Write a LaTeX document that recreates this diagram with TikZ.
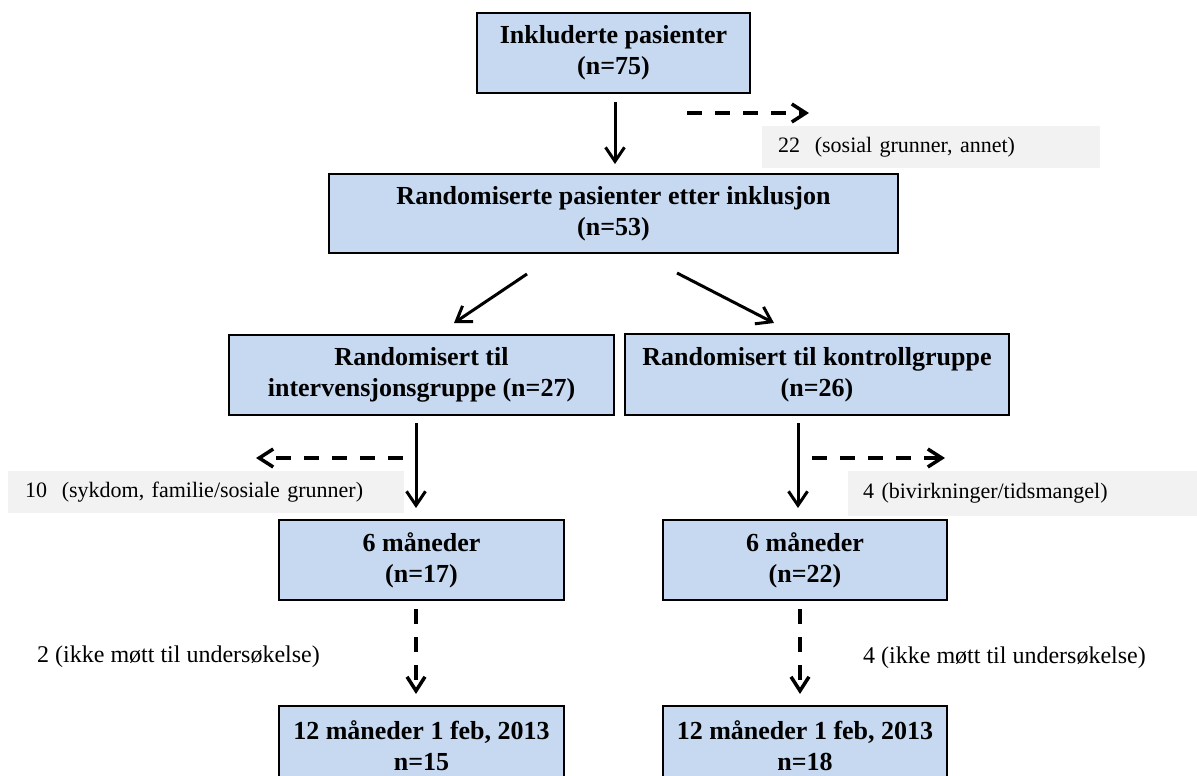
\documentclass[tikz,border=0pt]{standalone}
\usepackage{fontspec}
\setmainfont{Liberation Serif}
\usetikzlibrary{arrows.meta}
\definecolor{boxblue}{HTML}{C6D9F1}
\definecolor{graybg}{HTML}{F2F2F2}
\begin{document}
\begin{tikzpicture}[x=1pt,y=-1pt,
  mainbox/.style={draw=black, line width=2pt, fill=boxblue, inner sep=0pt, align=center,
    font=\fontsize{26}{31}\selectfont\bfseries},
  note/.style={fill=graybg, inner ysep=0pt, anchor=north west, align=left,
    font=\fontsize{22}{26}\selectfont},
  plain/.style={inner sep=0pt, anchor=west, font=\fontsize{24}{28}\selectfont},
  solidarrow/.style={line width=3pt, -{Straight Barb[length=14pt,width=19pt]}},
  dasharrow/.style={line width=3.5pt, dash pattern=on 15pt off 13pt, -{Straight Barb[length=14pt,width=18pt]}}
]
\useasboundingbox (0,0) rectangle (1197,776);
\clip (0,0) rectangle (1197,776);

% main boxes
\node[mainbox, minimum width=273pt, minimum height=80pt] (b1) at (613.5,53) {Inkluderte pasienter\\(n=75)};
\node[mainbox, minimum width=569pt, minimum height=79pt] (b2) at (613.5,213.5) {Randomiserte pasienter etter inklusjon\\(n=53)};
\node[mainbox, minimum width=385pt, minimum height=80pt] (b3) at (421.5,375) {Randomisert til\\intervensjonsgruppe (n=27)};
\node[mainbox, minimum width=384pt, minimum height=81pt] (b4) at (817,374.5) {Randomisert til kontrollgruppe\\(n=26)};
\node[mainbox, minimum width=285pt, minimum height=80pt] (b5) at (421.5,560) {6 måneder\\(n=17)};
\node[mainbox, minimum width=284pt, minimum height=80pt] (b6) at (805,560) {6 måneder\\(n=22)};
\node[mainbox, minimum width=285pt, minimum height=80pt, anchor=north] (b7) at (421.5,705) {12 måneder 1 feb, 2013\\n=15};
\node[mainbox, minimum width=284pt, minimum height=80pt, anchor=north] (b8) at (805,705) {12 måneder 1 feb, 2013\\n=18};

% gray notes
\node[note, inner xsep=16pt, text width=306pt, minimum height=42pt] (g1) at (762,126) {22\ \ (sosial grunner, annet)};
\node[note, inner xsep=17pt, text width=362pt, minimum height=42pt] (g2) at (8,471) {10\ \ (sykdom, familie/sosiale grunner)};
\node[note, inner xsep=15pt, text width=319pt, minimum height=45pt] (g3) at (848,471) {4 (bivirkninger/tidsmangel)};

% plain labels
\node[plain] (t1) at (37,657) {2 (ikke møtt til undersøkelse)};
\node[plain] (t2) at (863,658) {4 (ikke møtt til undersøkelse)};

% connector end points
\coordinate (a1s) at (615,102);   \coordinate (a1e) at (615,164);
\coordinate (d1s) at (687,113);   \coordinate (d1e) at (809,113);
\coordinate (a2s) at (527,274);   \coordinate (a2e) at (454,323);
\coordinate (a3s) at (677,273);   \coordinate (a3e) at (774,323);
\coordinate (a4s) at (416,423);   \coordinate (a4e) at (416,508);
\coordinate (d2s) at (403,458);   \coordinate (d2e) at (256,458);
\coordinate (a5s) at (798,423);   \coordinate (a5e) at (798,508);
\coordinate (d3s) at (812,458);   \coordinate (d3e) at (945,458);
\coordinate (d4s) at (416,609);   \coordinate (d4e) at (416,694);
\coordinate (d5s) at (800,609);   \coordinate (d5e) at (800,694);

\draw[solidarrow] (a1s) -- (a1e);
\draw[dasharrow] (d1s) -- (d1e);
\draw[solidarrow] (a2s) -- (a2e);
\draw[solidarrow] (a3s) -- (a3e);
\draw[solidarrow] (a4s) -- (a4e);
\draw[dasharrow] (d2s) -- (d2e);
\draw[solidarrow] (a5s) -- (a5e);
\draw[dasharrow] (d3s) -- (d3e);
\draw[dasharrow] (d4s) -- (d4e);
\draw[dasharrow] (d5s) -- (d5e);
\end{tikzpicture}
\end{document}
